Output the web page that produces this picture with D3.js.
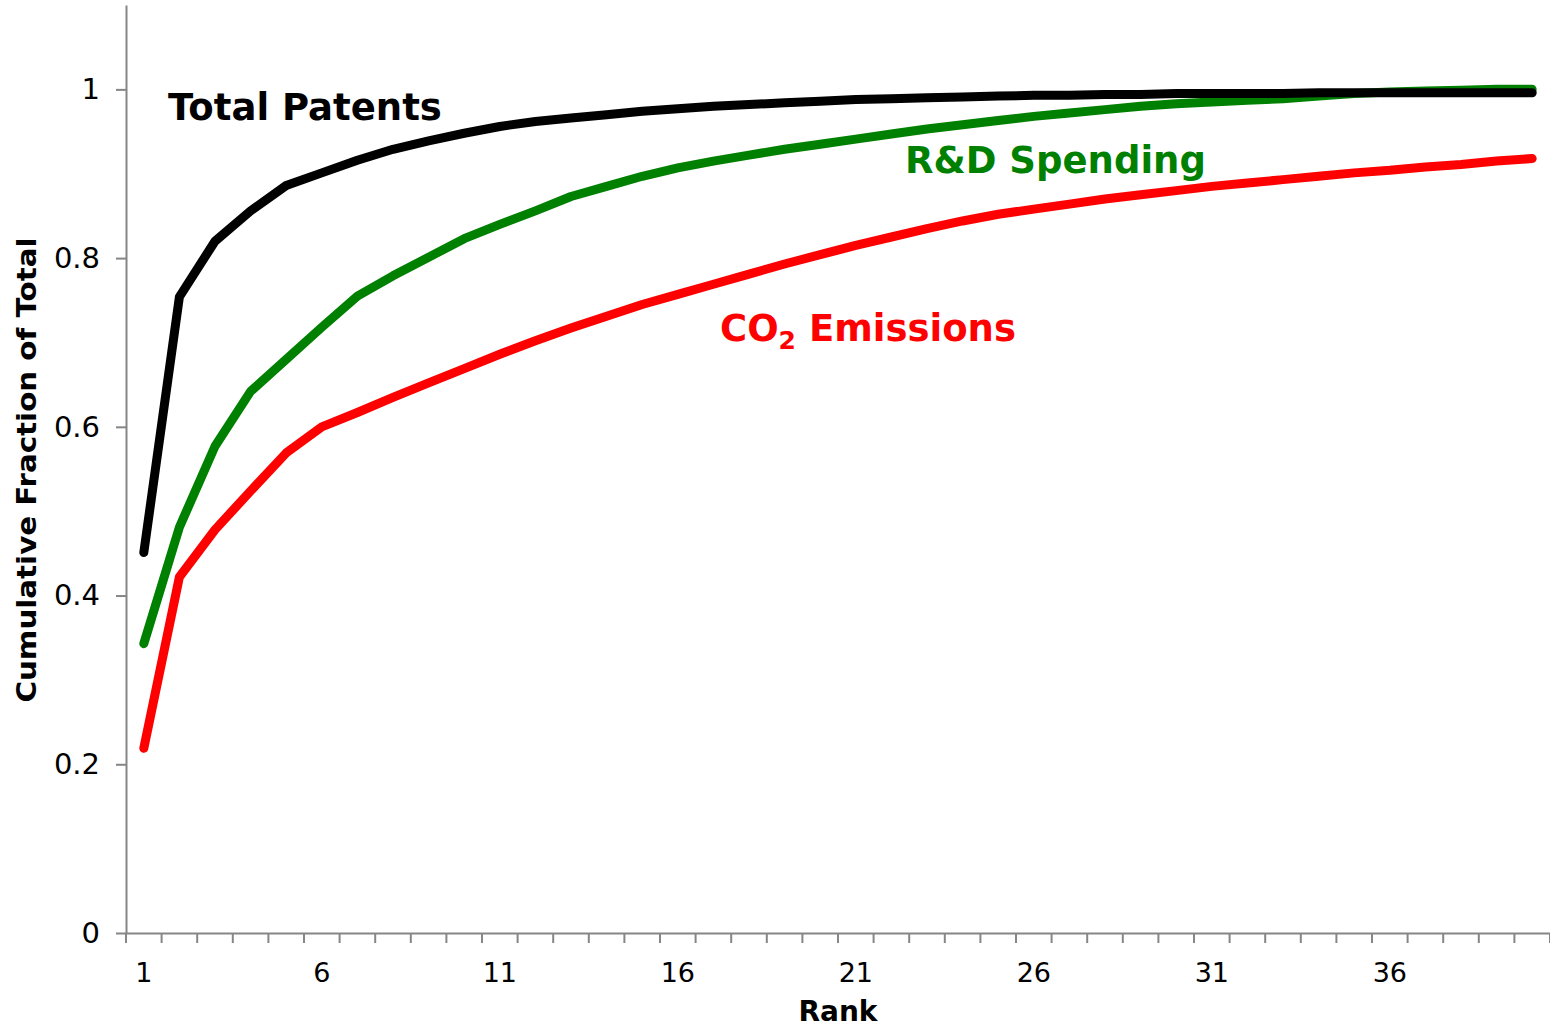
<!DOCTYPE html>
<html>
<head>
<meta charset="utf-8">
<script src="https://cdn.jsdelivr.net/npm/d3@7"></script>
<style>
  body { margin: 0; background: white; }
  text { font-family: "DejaVu Sans", Verdana, sans-serif; }
</style>
</head>
<body>
<div id="chart"></div>
<script>

// data
var ranks = d3.range(1, 41);
var xTickLabels = [1, 6, 11, 16, 21, 26, 31, 36];
var yTickLabels = [0, 0.2, 0.4, 0.6, 0.8, 1];

var totalPatents = [0.451, 0.754, 0.820, 0.856, 0.886, 0.901, 0.916, 0.929, 0.939, 0.948,
                    0.956, 0.962, 0.966, 0.970, 0.974, 0.977, 0.980, 0.982, 0.984, 0.986,
                    0.988, 0.989, 0.990, 0.991, 0.992, 0.993, 0.993, 0.994, 0.994, 0.995,
                    0.995, 0.995, 0.995, 0.996, 0.996, 0.996, 0.996, 0.996, 0.996, 0.996];

var rdSpending = [0.343, 0.481, 0.577, 0.642, 0.680, 0.718, 0.755, 0.779, 0.801, 0.823,
                  0.840, 0.856, 0.873, 0.885, 0.897, 0.907, 0.915, 0.922, 0.929, 0.935,
                  0.941, 0.947, 0.953, 0.958, 0.963, 0.968, 0.972, 0.976, 0.980, 0.983,
                  0.985, 0.987, 0.989, 0.992, 0.995, 0.997, 0.998, 0.999, 1.000, 1.000];

var co2Emissions = [0.219, 0.422, 0.478, 0.524, 0.569, 0.600, 0.617, 0.635, 0.652, 0.669,
                    0.686, 0.702, 0.717, 0.731, 0.745, 0.757, 0.769, 0.781, 0.793, 0.804,
                    0.815, 0.825, 0.835, 0.844, 0.852, 0.858, 0.864, 0.870, 0.875, 0.880,
                    0.885, 0.889, 0.893, 0.897, 0.901, 0.904, 0.908, 0.911, 0.915, 0.918];

// set the dimensions and margins of the graph
var margin = {top: 5, right: 0, bottom: 96, left: 126};
var width = 1550 - margin.left - margin.right,
    height = 1029 - margin.top - margin.bottom;

var axisColor = "#868686";

var svg = d3.select("#chart")
  .append("svg")
    .attr("width", width + margin.left + margin.right)
    .attr("height", height + margin.top + margin.bottom)
  .append("g")
    .attr("transform", "translate(" + margin.left + "," + margin.top + ")");

// X axis (category bands, ticks between categories)
var x = d3.scaleBand()
  .domain(ranks)
  .range([0, width])
  .padding(0);

var xAxis = svg.append("g")
  .attr("transform", "translate(0," + height + ")")
  .call(d3.axisBottom(x).tickValues(xTickLabels).tickSize(0).tickPadding(30));
xAxis.select(".domain").attr("stroke", axisColor).attr("stroke-width", 2);
xAxis.selectAll("text")
  .attr("fill", "black")
  .style("font-size", "27px");

svg.append("g")
  .selectAll("line")
  .data(ranks.concat([null]))
  .enter()
  .append("line")
    .attr("x1", function(d) { return d === null ? width : x(d); })
    .attr("x2", function(d) { return d === null ? width : x(d); })
    .attr("y1", height)
    .attr("y2", height + 10)
    .attr("stroke", axisColor)
    .attr("stroke-width", 2);

// Y axis
var y = d3.scaleLinear()
  .domain([0, 1.1])
  .range([height, 0]);

var yAxis = svg.append("g")
  .call(d3.axisLeft(y).tickValues(yTickLabels).tickFormat(d3.format("")).tickSize(10).tickSizeOuter(0).tickPadding(16));
yAxis.select(".domain").attr("stroke", axisColor).attr("stroke-width", 2);
yAxis.selectAll(".tick line").attr("stroke", axisColor).attr("stroke-width", 2);
yAxis.selectAll("text")
  .attr("fill", "black")
  .style("font-size", "29px");

// axis titles
svg.append("text")
  .attr("transform", "rotate(-90)")
  .attr("x", -(470 - margin.top))
  .attr("y", 36 - margin.left)
  .attr("text-anchor", "middle")
  .attr("font-weight", "bold")
  .attr("textLength", 465)
  .attr("lengthAdjust", "spacingAndGlyphs")
  .style("font-size", "26px")
  .text("Cumulative Fraction of Total");

svg.append("text")
  .attr("x", width / 2)
  .attr("y", 1021 - margin.top)
  .attr("text-anchor", "middle")
  .attr("font-weight", "bold")
  .style("font-size", "28px")
  .text("Rank");

// lines
var line = d3.line()
  .x(function(d, i) { return x(ranks[i]) + x.bandwidth() / 2; })
  .y(function(d) { return y(d); });

var series = [
  {values: co2Emissions, color: "#ff0000"},
  {values: rdSpending, color: "#008000"},
  {values: totalPatents, color: "#000000"}
];

svg.selectAll("path.series")
  .data(series)
  .enter()
  .append("path")
    .attr("class", "series")
    .attr("d", function(d) { return line(d.values); })
    .attr("fill", "none")
    .attr("stroke", function(d) { return d.color; })
    .attr("stroke-width", 9)
    .attr("stroke-linecap", "round")
    .attr("stroke-linejoin", "round");

// series labels
svg.append("text")
  .attr("x", 168 - margin.left)
  .attr("y", 120 - margin.top)
  .attr("font-weight", "bold")
  .attr("fill", "black")
  .style("font-size", "37px")
  .text("Total Patents");

svg.append("text")
  .attr("x", 905 - margin.left)
  .attr("y", 173 - margin.top)
  .attr("font-weight", "bold")
  .attr("fill", "#008000")
  .style("font-size", "37px")
  .text("R&D Spending");

var co2 = svg.append("text")
  .attr("x", 720 - margin.left)
  .attr("y", 341 - margin.top)
  .attr("font-weight", "bold")
  .attr("fill", "#ff0000")
  .style("font-size", "37px");
co2.append("tspan").text("CO");
co2.append("tspan").attr("dy", 8).style("font-size", "25px").text("2");
co2.append("tspan").attr("dy", -8).text(" Emissions");

</script>
</body>
</html>
